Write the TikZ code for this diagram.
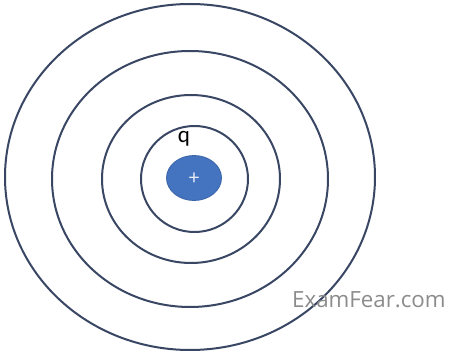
\documentclass[tikz,border=0pt]{standalone}
\usepackage{fontspec}
\setmainfont{Carlito}
\newfontfamily\wmfont{Open Sans}
\definecolor{ringcol}{HTML}{3A4764}
\definecolor{chargefill}{HTML}{4473C0}
\definecolor{chargeedge}{HTML}{3B64A8}
\definecolor{wmcol}{HTML}{8C8C8C}
\begin{document}
\begin{tikzpicture}[x=1pt,y=-1pt,
  ring/.style={draw=ringcol,line width=2pt},
  charge/.style={fill=chargefill,draw=chargeedge,line width=0.8pt}]
\useasboundingbox (0,0) rectangle (456,358);
\fill[white] (0,0) rectangle (456,358);
\draw[ring] (190,177) ellipse [x radius=185,y radius=173];
\draw[ring] (190,179) ellipse [x radius=138,y radius=128];
\draw[ring] (191,179) ellipse [x radius=89,y radius=84];
\draw[ring] (194.5,179) ellipse [x radius=53.5,y radius=53];
\draw[charge] (194,178) ellipse [x radius=27.5,y radius=22.5];
\node[text=white!85!chargefill,font=\fontsize{21}{24}\selectfont] (plus) at (194,179) {+};
\node[text=black,font=\fontsize{23}{26}\selectfont] (q) at (184,139) {q};
\node[text=wmcol,font=\wmfont\fontsize{22.3}{26}\selectfont,anchor=west,inner sep=0pt] (wm) at (292,300) {ExamFear.com};
\end{tikzpicture}
\end{document}
